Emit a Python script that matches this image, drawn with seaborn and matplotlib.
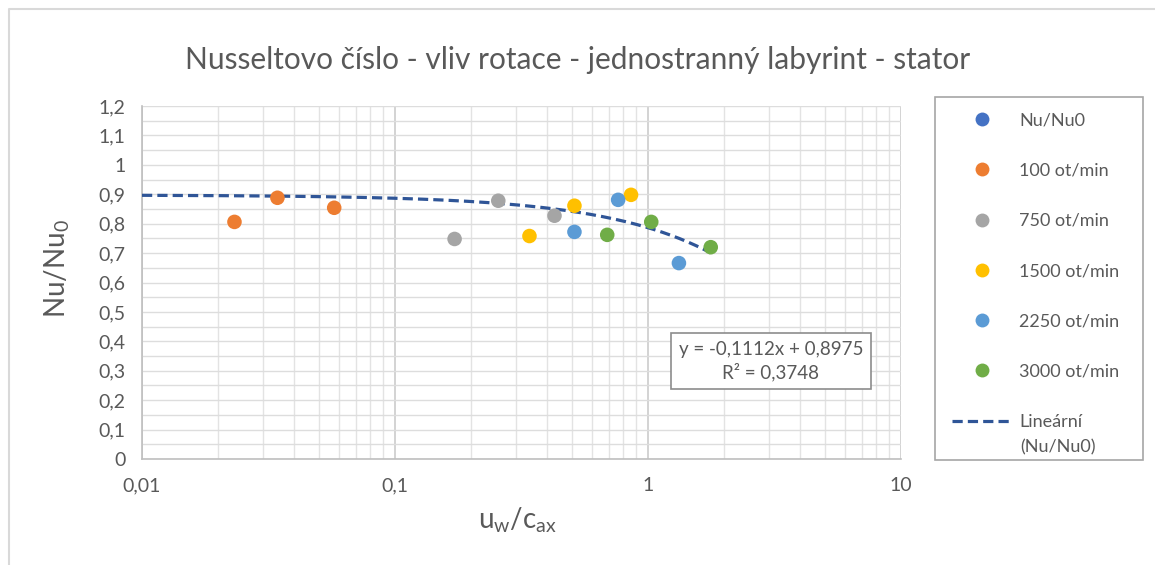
import numpy as np
import pandas as pd
import matplotlib
matplotlib.use('Agg')
import matplotlib.pyplot as plt
import matplotlib.ticker as mticker
from matplotlib.lines import Line2D
from matplotlib.patches import Rectangle
import seaborn as sns

# %% Data
series_names = ['100 ot/min', '750 ot/min', '1500 ot/min', '2250 ot/min', '3000 ot/min']
x_100 = [0.0232, 0.0343, 0.0575]
y_100 = [0.806, 0.888, 0.854]
x_750 = [0.172, 0.256, 0.427]
y_750 = [0.748, 0.878, 0.827]
x_1500 = [0.340, 0.512, 0.857]
y_1500 = [0.758, 0.861, 0.898]
x_2250 = [0.512, 0.762, 1.325]
y_2250 = [0.772, 0.881, 0.666]
x_3000 = [0.690, 1.03, 1.77]
y_3000 = [0.762, 0.806, 0.720]

# linear trendline (Excel), shown on log x axis
slope = -0.1112
intercept = 0.8975
r2 = 0.3748
trend_xrange = [0.01, 1.77]

y_ticks = [0, 0.1, 0.2, 0.3, 0.4, 0.5, 0.6, 0.7, 0.8, 0.9, 1.0, 1.1, 1.2]
x_ticks = [0.01, 0.1, 1, 10]

colors = {'Nu/Nu0': '#4472C4', '100 ot/min': '#ED7D31', '750 ot/min': '#A5A5A5',
          '1500 ot/min': '#FFC000', '2250 ot/min': '#5B9BD5', '3000 ot/min': '#70AD47'}
trend_color = '#2F5597'
txt = '#595959'

df = pd.DataFrame({
    'x': x_100 + x_750 + x_1500 + x_2250 + x_3000,
    'y': y_100 + y_750 + y_1500 + y_2250 + y_3000,
    'serie': sum([[n] * 3 for n in series_names], []),
})

def cz(v):
    # czech decimal comma
    return ('%g' % v).replace('.', ',')

# %% Plot
sns.set_style('white')
plt.rcParams['font.family'] = ['Lato', 'DejaVu Sans']
plt.rcParams['mathtext.default'] = 'regular'

W, H = 1155, 565
fig = plt.figure(figsize=(W / 100, H / 100), dpi=100)
ax = fig.add_axes([142 / W, 1 - 459 / H, (901 - 142) / W, (459 - 106) / H])

# trend line
tx = np.geomspace(trend_xrange[0], trend_xrange[1], 200)
ax.plot(tx, slope * tx + intercept, color=trend_color, lw=2.3, ls=(0, (3.2, 1.6)), zorder=3)

sns.scatterplot(data=df, x='x', y='y', hue='serie', palette=colors, s=110,
                edgecolor='none', legend=False, ax=ax, zorder=4)

ax.set_xscale('log')
ax.set_xlim(0.01, 10)
ax.set_ylim(0, 1.2)
ax.set_xticks(x_ticks)
ax.set_xticklabels([cz(v) for v in x_ticks])
ax.xaxis.set_minor_locator(mticker.LogLocator(base=10, subs=np.arange(2, 10)))
ax.xaxis.set_minor_formatter(mticker.NullFormatter())
ax.set_yticks(y_ticks)
ax.set_yticklabels([cz(v) for v in y_ticks])
ax.yaxis.set_minor_locator(mticker.MultipleLocator(0.05))

ax.grid(which='major', axis='x', color='#C8C8C8', lw=1.1)
ax.grid(which='minor', axis='x', color='#E3E3E3', lw=1.0)
ax.grid(which='both', axis='y', color='#DDDDDD', lw=1.0)
ax.set_axisbelow(True)

for s in ['top', 'right']:
    ax.spines[s].set_visible(False)
for s in ['left', 'bottom']:
    ax.spines[s].set_color('#BFBFBF')
    ax.spines[s].set_linewidth(1.2)

ax.tick_params(axis='both', which='both', labelsize=14, labelcolor=txt, color='#BFBFBF')
ax.tick_params(axis='y', which='both', length=4, pad=8, direction='out')
ax.tick_params(axis='x', which='both', length=0, pad=13)
ax.set_xlabel('')
ax.set_ylabel('')

fig.text(517 / W, 1 - 520 / H, 'u$_w$/c$_{ax}$', fontsize=20, color=txt, ha='center', va='center')
fig.text(57 / W, 1 - 269 / H, 'Nu/Nu$_0$', fontsize=20, color=txt, ha='center', va='center', rotation=90)
fig.text(578 / W, 1 - 60 / H, 'Nusseltovo číslo - vliv rotace - jednostranný labyrint - stator',
         fontsize=21.5, color=txt, ha='center', va='center')

# equation box
eq = 'y = %sx + %s\nR² = %s' % (cz(slope), cz(intercept), cz(r2))
fig.text(771 / W, 1 - 361 / H, eq, fontsize=13.5, color=txt, ha='center', va='center',
         linespacing=1.3, multialignment='center', zorder=6,
         bbox=dict(boxstyle='square,pad=0.4', fc='white', ec='#8C8C8C', lw=1.2))

# legend
handles = [Line2D([], [], ls='none', marker='o', ms=10, mfc=colors[k], mec='none') for k in colors]
handles.append(Line2D([], [], color=trend_color, lw=2.3, ls=(0, (3.2, 1.6))))
labels = list(colors.keys()) + ['Lineární']
fig.patches.append(Rectangle((935 / W, 1 - 460 / H), (1143 - 935) / W, (460 - 97) / H,
                             transform=fig.transFigure, fc='white', ec='#A6A6A6', lw=1.2))
leg = fig.legend(handles, labels, loc='upper left', bbox_to_anchor=(936 / W, 1 - 96 / H),
                 frameon=False, fontsize=13, labelcolor=txt, handlelength=3.3,
                 handletextpad=0.42, labelspacing=1.9)
fig.text(1020 / W, 1 - 447 / H, '(Nu/Nu0)', fontsize=13, color=txt, ha='left', va='center')

# outer chart border
fig.add_artist(Line2D([9 / W, 9 / W, 1.0], [0.0, 1 - 9 / H, 1 - 9 / H],
                      transform=fig.transFigure, color='#D9D9D9', lw=1.5))

fig.savefig('out.png', dpi=100)
